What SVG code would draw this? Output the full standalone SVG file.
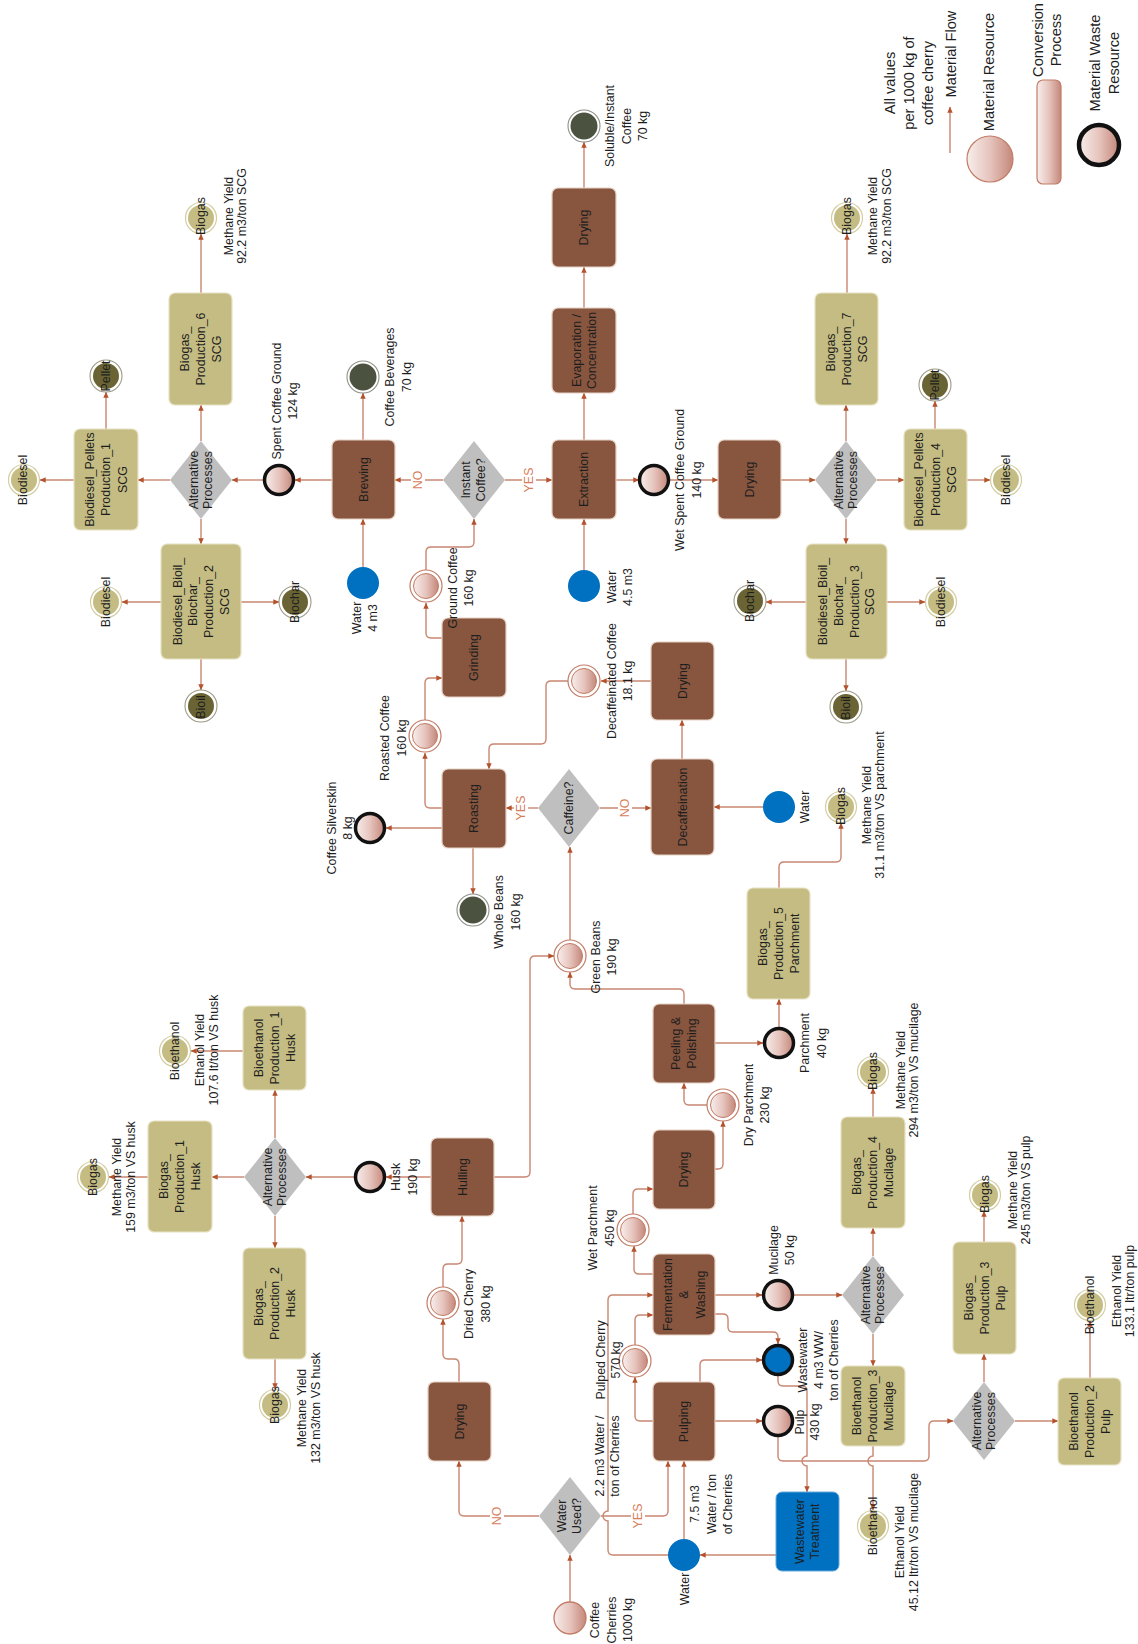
<svg xmlns="http://www.w3.org/2000/svg" width="1138" height="1644" viewBox="0 0 1138 1644">
<defs>
<linearGradient id="rg" x1="0" y1="0" x2="1" y2="0">
<stop offset="0" stop-color="#F7EEEC"/><stop offset="0.5" stop-color="#E6C4BD"/><stop offset="1" stop-color="#C4877A"/>
</linearGradient>
<marker id="ah" viewBox="0 0 10 10" refX="9.5" refY="5" markerWidth="7" markerHeight="6" orient="auto" markerUnits="userSpaceOnUse">
<path d="M0,0.5 L10,5 L0,9.5 z" fill="#B4522D"/>
</marker>
<style>
.t{font-family:"Liberation Sans",Arial,sans-serif;font-size:12.4px;fill:#1e1e1e;text-anchor:middle}
.lg{font-size:14.6px}
.yn{font-family:"Liberation Sans",Arial,sans-serif;font-size:12.4px;fill:#D8805C;text-anchor:middle}
.proc{fill:#88563F;stroke:#E6CFC4;stroke-width:1.2}
.wwt{fill:#0070C0;stroke:#6AA8DA;stroke-width:1}
.olv{fill:#C4BC83;stroke:#E6E2C3;stroke-width:1.2}
.dia{fill:#BFBFBF}
.ring{fill:#fff;stroke:#C27C66;stroke-width:1.2}
.res{fill:url(#rg);stroke:#C27C66;stroke-width:1}
.res1{fill:url(#rg);stroke:#C27C66;stroke-width:1.3}
.waste{fill:url(#rg);stroke:#111;stroke-width:3.5}
.water{fill:#0070C0}
.pdo{fill:#fff;stroke:#8E9088;stroke-width:1.1}
.pd{fill:#4B5340}
.olo{fill:#fff;stroke:#D3CEA2;stroke-width:1.2}
.ol{fill:#C4BC83}
.odo{fill:#fff;stroke:#9C9A85;stroke-width:1.1}
.od{fill:#6A6434}
.e{fill:none;stroke:#C98771;stroke-width:1.4;marker-end:url(#ah)}
.bg{fill:#fff}
</style>
</defs>
<rect width="1138" height="1644" fill="#fff"/>

<!-- connectors -->
<g id="connectors">
<path class="e" d="M201,293 V234"/>
<path class="e" d="M201,441 V405"/>
<path class="e" d="M106,429 V392"/>
<path class="e" d="M74,480 H40"/>
<path class="e" d="M170,480 H138"/>
<path class="e" d="M263,480 H232"/>
<path class="e" d="M332,480 H295"/>
<path class="e" d="M363,440 V393"/>
<path class="e" d="M363,567 V519"/>
<path class="e" d="M201,519 V544"/>
<path class="e" d="M161,602 H122"/>
<path class="e" d="M241,602 H279"/>
<path class="e" d="M201,659 V690"/>
<path class="e" d="M443,480 H395"/>
<path class="e" d="M505,480 H552"/>
<path class="e" d="M584,440 V393"/>
<path class="e" d="M584,308 V267"/>
<path class="e" d="M584,188 V142"/>
<path class="e" d="M584,570 V519"/>
<path class="e" d="M616,480 H639"/>
<path class="e" d="M670,480 H718"/>
<path class="e" d="M781,480 H815"/>
<path class="e" d="M846,441 V405"/>
<path class="e" d="M847,293 V234"/>
<path class="e" d="M877,480 H904"/>
<path class="e" d="M935,429 V401"/>
<path class="e" d="M967,480 H990"/>
<path class="e" d="M846,519 V544"/>
<path class="e" d="M806,602 H766"/>
<path class="e" d="M887,602 H925"/>
<path class="e" d="M846,659 V691"/>
<path class="e" d="M442,638 H431 Q426,638 426,633 V603"/>
<path class="e" d="M426,570 V552 Q426,547 431,547 H469 Q474,547 474,542 V519"/>
<path class="e" d="M425,720 V683 Q425,678 430,678 H442"/>
<path class="e" d="M442,808 H430 Q425,808 425,803 V753"/>
<path class="e" d="M442,828 H386"/>
<path class="e" d="M473,848 V894"/>
<path class="e" d="M538,808 H506"/>
<path class="e" d="M600,808 H651"/>
<path class="e" d="M682,759 V720"/>
<path class="e" d="M651,681 H601"/>
<path class="e" d="M568,681 H551 Q546,681 546,686 V739 Q546,744 541,744 H494 Q489,744 489,749 V769"/>
<path class="e" d="M763,807 H714"/>
<path class="e" d="M570,940 V847"/>
<path class="e" d="M494,1177 H525 Q530,1177 530,1172 V961 Q530,956 535,956 H554"/>
<path class="e" d="M684,1004 V994 Q684,989 679,989 H575 Q570,989 570,984 V972"/>
<path class="e" d="M715,1043 H763"/>
<path class="e" d="M779,1027 V999"/>
<path class="e" d="M779,888 V867 Q779,862 784,862 H836 Q841,862 841,857 V823"/>
<path class="e" d="M707,1105 H689 Q684,1105 684,1100 V1083"/>
<path class="e" d="M715,1169 H718 Q723,1169 723,1164 V1121"/>
<path class="e" d="M633,1214 V1194 Q633,1189 638,1189 H653"/>
<path class="e" d="M653,1274 H639 Q634,1274 634,1269 V1246"/>
<path class="e" d="M431,1177 H386"/>
<path class="e" d="M354,1177 H306"/>
<path class="e" d="M244,1177 H212"/>
<path class="e" d="M148,1177 H109"/>
<path class="e" d="M275,1138 V1090"/>
<path class="e" d="M243,1051 H191"/>
<path class="e" d="M275,1216 V1248"/>
<path class="e" d="M275,1359 V1389"/>
<path class="e" d="M459,1382 V1364 Q459,1359 454,1359 H448 Q443,1359 443,1354 V1319"/>
<path class="e" d="M443,1287 V1269 Q443,1264 448,1264 H457 Q462,1264 462,1259 V1216"/>
<path class="e" d="M539,1516 H464 Q459,1516 459,1511 V1461"/>
<path class="e" d="M601,1516 H663 Q668,1516 668,1511 V1461"/>
<path class="e" d="M570,1602 V1555"/>
<path class="e" d="M684,1539 V1461"/>
<path class="e" d="M668,1555 H613 Q608,1555 608,1550 V1521 A5,5 0 0 1 608,1511 V1300 Q608,1295 613,1295 H653"/>
<path class="e" d="M653,1421 H640 Q635,1421 635,1416 V1377"/>
<path class="e" d="M635,1345 V1320 Q635,1315 640,1315 H653"/>
<path class="e" d="M715,1295 H762"/>
<path class="e" d="M715,1314 H723 Q728,1314 728,1319 V1327 Q728,1332 733,1332 H773 Q778,1332 778,1337 V1344"/>
<path class="e" d="M700,1382 V1365 Q700,1360 705,1360 H762"/>
<path class="e" d="M715,1421 H762"/>
<path class="e" d="M794,1295 H842"/>
<path class="e" d="M873,1256 V1228"/>
<path class="e" d="M873,1117 V1088"/>
<path class="e" d="M873,1334 V1366"/>
<path class="e" d="M873,1446 V1456 A5,5 0 0 0 873,1466 V1510"/>
<path class="e" d="M778,1376 V1381 Q778,1386 783,1386 H802 Q807,1386 807,1391 V1456 A5,5 0 0 0 807,1466 V1492"/>
<path class="e" d="M778,1437 V1456 Q778,1461 783,1461 H924 Q929,1461 929,1456 V1426 Q929,1421 934,1421 H953"/>
<path class="e" d="M984,1382 V1354"/>
<path class="e" d="M984,1242 V1211"/>
<path class="e" d="M1015,1421 H1058"/>
<path class="e" d="M1090,1378 V1321"/>
<path class="e" d="M776,1555 H700"/>
<!-- decision branch labels -->
<rect class="bg" x="411" y="469" width="14" height="22"/>
<text class="yn" transform="translate(418,480) rotate(-90)"><tspan x="0" y="4.3">NO</tspan></text>
<rect class="bg" x="522" y="466" width="14" height="28"/>
<text class="yn" transform="translate(529,480) rotate(-90)"><tspan x="0" y="4.3">YES</tspan></text>
<rect class="bg" x="514" y="794" width="14" height="28"/>
<text class="yn" transform="translate(521,808) rotate(-90)"><tspan x="0" y="4.3">YES</tspan></text>
<rect class="bg" x="618" y="797" width="14" height="22"/>
<text class="yn" transform="translate(625,808) rotate(-90)"><tspan x="0" y="4.3">NO</tspan></text>
<rect class="bg" x="490" y="1505" width="14" height="22"/>
<text class="yn" transform="translate(497,1516) rotate(-90)"><tspan x="0" y="4.3">NO</tspan></text>
<rect class="bg" x="631" y="1502" width="14" height="28"/>
<text class="yn" transform="translate(638,1516) rotate(-90)"><tspan x="0" y="4.3">YES</tspan></text>
</g>

<!-- conversion processes -->
<g id="brewing"><rect class="proc" x="332" y="440" width="63" height="79" rx="6"/><text class="t" transform="translate(363.5,479.5) rotate(-90)"><tspan x="0" y="4.3">Brewing</tspan></text></g>
<g id="extraction"><rect class="proc" x="552" y="440" width="64" height="79" rx="6"/><text class="t" transform="translate(584,479.5) rotate(-90)"><tspan x="0" y="4.3">Extraction</tspan></text></g>
<g id="evaporation"><rect class="proc" x="552" y="308" width="64" height="85" rx="6"/><text class="t" transform="translate(584,350.5) rotate(-90)"><tspan x="0" y="-3.45">Evaporation /</tspan><tspan x="0" y="12.05">Concentration</tspan></text></g>
<g id="drying-instant"><rect class="proc" x="552" y="188" width="64" height="79" rx="6"/><text class="t" transform="translate(584,227.5) rotate(-90)"><tspan x="0" y="4.3">Drying</tspan></text></g>
<g id="drying-scg"><rect class="proc" x="718" y="440" width="63" height="79" rx="6"/><text class="t" transform="translate(749.5,479.5) rotate(-90)"><tspan x="0" y="4.3">Drying</tspan></text></g>
<g id="grinding"><rect class="proc" x="442" y="618" width="64" height="79" rx="6"/><text class="t" transform="translate(474,657.5) rotate(-90)"><tspan x="0" y="4.3">Grinding</tspan></text></g>
<g id="roasting"><rect class="proc" x="442" y="769" width="64" height="79" rx="6"/><text class="t" transform="translate(474,808.5) rotate(-90)"><tspan x="0" y="4.3">Roasting</tspan></text></g>
<g id="drying-decaf"><rect class="proc" x="651" y="642" width="63" height="78" rx="6"/><text class="t" transform="translate(682.5,681) rotate(-90)"><tspan x="0" y="4.3">Drying</tspan></text></g>
<g id="decaffeination"><rect class="proc" x="651" y="759" width="63" height="96" rx="6"/><text class="t" transform="translate(682.5,807) rotate(-90)"><tspan x="0" y="4.3">Decaffeination</tspan></text></g>
<g id="hulling"><rect class="proc" x="431" y="1138" width="63" height="78" rx="6"/><text class="t" transform="translate(462.5,1177) rotate(-90)"><tspan x="0" y="4.3">Hulling</tspan></text></g>
<g id="peeling"><rect class="proc" x="653" y="1004" width="62" height="79" rx="6"/><text class="t" transform="translate(684,1043.5) rotate(-90)"><tspan x="0" y="-3.7">Peeling &amp;</tspan><tspan x="0" y="12.3">Polishing</tspan></text></g>
<g id="drying-parchment"><rect class="proc" x="653" y="1130" width="62" height="79" rx="6"/><text class="t" transform="translate(684,1169.5) rotate(-90)"><tspan x="0" y="4.3">Drying</tspan></text></g>
<g id="fermentation"><rect class="proc" x="653" y="1254" width="62" height="81" rx="6"/><text class="t" transform="translate(684,1294.5) rotate(-90)"><tspan x="0" y="-12.2">Fermentation</tspan><tspan x="0" y="4.3">&amp;</tspan><tspan x="0" y="20.8">Washing</tspan></text></g>
<g id="pulping"><rect class="proc" x="653" y="1382" width="62" height="79" rx="6"/><text class="t" transform="translate(684,1421.5) rotate(-90)"><tspan x="0" y="4.3">Pulping</tspan></text></g>
<g id="drying-cherry"><rect class="proc" x="428" y="1382" width="63" height="79" rx="6"/><text class="t" transform="translate(459.5,1421.5) rotate(-90)"><tspan x="0" y="4.3">Drying</tspan></text></g>
<g id="wastewater-treatment"><rect class="wwt" x="776" y="1492" width="63" height="79" rx="6"/><text class="t" transform="translate(807.5,1531.5) rotate(-90)"><tspan x="0" y="-3.2">Wastewater</tspan><tspan x="0" y="11.8">Treatment</tspan></text></g>

<!-- valorisation processes -->
<g id="biogas-6"><rect class="olv" x="169" y="293" width="63" height="112" rx="6"/><text class="t" transform="translate(200.5,349) rotate(-90)"><tspan x="0" y="-11.7">Biogas_</tspan><tspan x="0" y="4.3">Production_6</tspan><tspan x="0" y="20.3">SCG</tspan></text></g>
<g id="pellets-1"><rect class="olv" x="74" y="429" width="64" height="101" rx="6"/><text class="t" transform="translate(106,479.5) rotate(-90)"><tspan x="0" y="-12.2">Biodiesel_Pellets</tspan><tspan x="0" y="4.3">Production_1</tspan><tspan x="0" y="20.8">SCG</tspan></text></g>
<g id="bioil-biochar-2"><rect class="olv" x="161" y="544" width="80" height="115" rx="6"/><text class="t" transform="translate(201,601.5) rotate(-90)"><tspan x="0" y="-19.25">Biodiesel_Bioil_</tspan><tspan x="0" y="-3.55">Biochar_</tspan><tspan x="0" y="12.15">Production_2</tspan><tspan x="0" y="27.85">SCG</tspan></text></g>
<g id="biogas-7"><rect class="olv" x="815" y="293" width="63" height="112" rx="6"/><text class="t" transform="translate(846.5,349) rotate(-90)"><tspan x="0" y="-11.7">Biogas_</tspan><tspan x="0" y="4.3">Production_7</tspan><tspan x="0" y="20.3">SCG</tspan></text></g>
<g id="pellets-4"><rect class="olv" x="904" y="429" width="63" height="101" rx="6"/><text class="t" transform="translate(935.5,479.5) rotate(-90)"><tspan x="0" y="-12.2">Biodiesel_Pellets</tspan><tspan x="0" y="4.3">Production_4</tspan><tspan x="0" y="20.8">SCG</tspan></text></g>
<g id="bioil-biochar-3"><rect class="olv" x="806" y="544" width="81" height="115" rx="6"/><text class="t" transform="translate(846.5,601.5) rotate(-90)"><tspan x="0" y="-19.25">Biodiesel_Bioil_</tspan><tspan x="0" y="-3.55">Biochar_</tspan><tspan x="0" y="12.15">Production_3</tspan><tspan x="0" y="27.85">SCG</tspan></text></g>
<g id="biogas-5"><rect class="olv" x="747" y="888" width="63" height="111" rx="6"/><text class="t" transform="translate(778.5,943.5) rotate(-90)"><tspan x="0" y="-11.7">Biogas_</tspan><tspan x="0" y="4.3">Production_5</tspan><tspan x="0" y="20.3">Parchment</tspan></text></g>
<g id="bioethanol-1"><rect class="olv" x="243" y="1006" width="63" height="84" rx="6"/><text class="t" transform="translate(274.5,1048) rotate(-90)"><tspan x="0" y="-11.7">Bioethanol</tspan><tspan x="0" y="4.3">Production_1</tspan><tspan x="0" y="20.3">Husk</tspan></text></g>
<g id="biogas-1"><rect class="olv" x="148" y="1121" width="64" height="111" rx="6"/><text class="t" transform="translate(180,1176.5) rotate(-90)"><tspan x="0" y="-11.7">Biogas_</tspan><tspan x="0" y="4.3">Production_1</tspan><tspan x="0" y="20.3">Husk</tspan></text></g>
<g id="biogas-2"><rect class="olv" x="243" y="1248" width="63" height="111" rx="6"/><text class="t" transform="translate(274.5,1303.5) rotate(-90)"><tspan x="0" y="-11.7">Biogas_</tspan><tspan x="0" y="4.3">Production_2</tspan><tspan x="0" y="20.3">Husk</tspan></text></g>
<g id="biogas-4"><rect class="olv" x="841" y="1117" width="64" height="111" rx="6"/><text class="t" transform="translate(873,1172.5) rotate(-90)"><tspan x="0" y="-11.7">Biogas_</tspan><tspan x="0" y="4.3">Production_4</tspan><tspan x="0" y="20.3">Mucilage</tspan></text></g>
<g id="bioethanol-3"><rect class="olv" x="841" y="1366" width="64" height="80" rx="6"/><text class="t" transform="translate(873,1406) rotate(-90)"><tspan x="0" y="-11.7">Bioethanol</tspan><tspan x="0" y="4.3">Production_3</tspan><tspan x="0" y="20.3">Mucilage</tspan></text></g>
<g id="biogas-3"><rect class="olv" x="953" y="1242" width="63" height="112" rx="6"/><text class="t" transform="translate(984.5,1298) rotate(-90)"><tspan x="0" y="-11.7">Biogas_</tspan><tspan x="0" y="4.3">Production_3</tspan><tspan x="0" y="20.3">Pulp</tspan></text></g>
<g id="bioethanol-2"><rect class="olv" x="1058" y="1378" width="63" height="87" rx="6"/><text class="t" transform="translate(1089.5,1421.5) rotate(-90)"><tspan x="0" y="-11.7">Bioethanol</tspan><tspan x="0" y="4.3">Production_2</tspan><tspan x="0" y="20.3">Pulp</tspan></text></g>

<!-- decisions -->
<g id="alt-scg-1"><polygon class="dia" points="201,441 232,480 201,519 170,480"/><text class="t" transform="translate(200.5,480) rotate(-90)"><tspan x="0" y="-2.7">Alternative</tspan><tspan x="0" y="11.3">Processes</tspan></text></g>
<g id="instant"><polygon class="dia" points="474,441 505,480 474,519 443,480"/><text class="t" transform="translate(473,480) rotate(-90)"><tspan x="0" y="-3.2">Instant</tspan><tspan x="0" y="11.8">Coffee?</tspan></text></g>
<g id="alt-scg-2"><polygon class="dia" points="846,441 877,480 846,519 815,480"/><text class="t" transform="translate(845.5,480) rotate(-90)"><tspan x="0" y="-2.7">Alternative</tspan><tspan x="0" y="11.3">Processes</tspan></text></g>
<g id="caffeine"><polygon class="dia" points="569,769 600,808 569,847 538,808"/><text class="t" transform="translate(569,808) rotate(-90)"><tspan x="0" y="4.3">Caffeine?</tspan></text></g>
<g id="alt-husk"><polygon class="dia" points="275,1138 306,1177 275,1216 244,1177"/><text class="t" transform="translate(274.5,1177) rotate(-90)"><tspan x="0" y="-2.7">Alternative</tspan><tspan x="0" y="11.3">Processes</tspan></text></g>
<g id="alt-mucilage"><polygon class="dia" points="873,1256 904,1295 873,1334 842,1295"/><text class="t" transform="translate(872.5,1295) rotate(-90)"><tspan x="0" y="-2.7">Alternative</tspan><tspan x="0" y="11.3">Processes</tspan></text></g>
<g id="alt-pulp"><polygon class="dia" points="984,1382 1015,1421 984,1460 953,1421"/><text class="t" transform="translate(983.5,1421) rotate(-90)"><tspan x="0" y="-2.7">Alternative</tspan><tspan x="0" y="11.3">Processes</tspan></text></g>
<g id="water-used"><polygon class="dia" points="570,1477 601,1516 570,1555 539,1516"/><text class="t" transform="translate(569.5,1516) rotate(-90)"><tspan x="0" y="-3.2">Water</tspan><tspan x="0" y="11.8">Used?</tspan></text></g>

<!-- material resources -->
<g id="ground-coffee"><circle class="ring" cx="426" cy="586" r="16"/><circle class="res" cx="426" cy="586" r="12.5"/><text class="t" transform="translate(460.5,588) rotate(-90)"><tspan x="0" y="-3.95">Ground Coffee</tspan><tspan x="0" y="12.55">160 kg</tspan></text></g>
<g id="roasted-coffee"><circle class="ring" cx="425" cy="736" r="16"/><circle class="res" cx="425" cy="736" r="12.5"/><text class="t" transform="translate(393,738) rotate(-90)"><tspan x="0" y="-3.95">Roasted Coffee</tspan><tspan x="0" y="12.55">160 kg</tspan></text></g>
<g id="decaf-coffee"><circle class="ring" cx="584" cy="681" r="16"/><circle class="res" cx="584" cy="681" r="12.5"/><text class="t" transform="translate(619.5,681) rotate(-90)"><tspan x="0" y="-3.95">Decaffeinated Coffee</tspan><tspan x="0" y="12.55">18.1 kg</tspan></text></g>
<g id="green-beans"><circle class="ring" cx="570" cy="956" r="16"/><circle class="res" cx="570" cy="956" r="12.5"/><text class="t" transform="translate(603.5,957) rotate(-90)"><tspan x="0" y="-3.95">Green Beans</tspan><tspan x="0" y="12.55">190 kg</tspan></text></g>
<g id="dry-parchment"><circle class="ring" cx="723" cy="1105" r="16"/><circle class="res" cx="723" cy="1105" r="12.5"/><text class="t" transform="translate(756.5,1105) rotate(-90)"><tspan x="0" y="-3.95">Dry Parchment</tspan><tspan x="0" y="12.55">230 kg</tspan></text></g>
<g id="wet-parchment"><circle class="ring" cx="633" cy="1230" r="16"/><circle class="res" cx="633" cy="1230" r="12.5"/><text class="t" transform="translate(601,1228) rotate(-90)"><tspan x="0" y="-3.95">Wet Parchment</tspan><tspan x="0" y="12.55">450 kg</tspan></text></g>
<g id="pulped-cherry"><circle class="ring" cx="635" cy="1361" r="16"/><circle class="res" cx="635" cy="1361" r="12.5"/><text class="t" transform="translate(608.5,1360) rotate(-90)"><tspan x="0" y="-3.2">Pulped Cherry</tspan><tspan x="0" y="11.8">570 kg</tspan></text></g>
<g id="dried-cherry"><circle class="ring" cx="443" cy="1303" r="16"/><circle class="res" cx="443" cy="1303" r="12.5"/><text class="t" transform="translate(477,1304) rotate(-90)"><tspan x="0" y="-3.95">Dried Cherry</tspan><tspan x="0" y="12.55">380 kg</tspan></text></g>
<g id="coffee-cherries"><circle class="res1" cx="570" cy="1618" r="16"/><text class="t" transform="translate(611.5,1620) rotate(-90)"><tspan x="0" y="-12.2">Coffee</tspan><tspan x="0" y="4.3">Cherries</tspan><tspan x="0" y="20.8">1000 kg</tspan></text></g>

<!-- material waste resources -->
<g id="spent-coffee-ground"><circle class="waste" cx="279" cy="480" r="14.5"/><text class="t" transform="translate(284.5,401) rotate(-90)"><tspan x="0" y="-3.95">Spent Coffee Ground</tspan><tspan x="0" y="12.55">124 kg</tspan></text></g>
<g id="wet-spent-coffee-ground"><circle class="waste" cx="654" cy="480" r="14.5"/><text class="t" transform="translate(688,480) rotate(-90)"><tspan x="0" y="-3.95">Wet Spent Coffee Ground</tspan><tspan x="0" y="12.55">140 kg</tspan></text></g>
<g id="silverskin"><circle class="waste" cx="370" cy="828" r="14.5"/><text class="t" transform="translate(339.5,828) rotate(-90)"><tspan x="0" y="-3.45">Coffee Silverskin</tspan><tspan x="0" y="12.05">8 kg</tspan></text></g>
<g id="husk"><circle class="waste" cx="370" cy="1177" r="14.5"/><text class="t" transform="translate(404,1177) rotate(-90)"><tspan x="0" y="-3.95">Husk</tspan><tspan x="0" y="12.55">190 kg</tspan></text></g>
<g id="parchment"><circle class="waste" cx="779" cy="1043" r="14.5"/><text class="t" transform="translate(813,1043) rotate(-90)"><tspan x="0" y="-3.95">Parchment</tspan><tspan x="0" y="12.55">40 kg</tspan></text></g>
<g id="mucilage"><circle class="waste" cx="778" cy="1295" r="14.5"/><text class="t" transform="translate(781.5,1250) rotate(-90)"><tspan x="0" y="-3.95">Mucilage</tspan><tspan x="0" y="12.55">50 kg</tspan></text></g>
<g id="pulp"><circle class="waste" cx="778" cy="1421" r="14.5"/><text class="t" transform="translate(807.5,1422) rotate(-90)"><tspan x="0" y="-3.2">Pulp</tspan><tspan x="0" y="11.8">430 kg</tspan></text></g>
<g id="wastewater"><circle cx="778" cy="1360" r="14.5" fill="#0070C0" stroke="#111" stroke-width="3.5"/><text class="t" transform="translate(818.5,1360) rotate(-90)"><tspan x="0" y="-11.2">Wastewater</tspan><tspan x="0" y="4.3">4 m3  WW/</tspan><tspan x="0" y="19.8">ton of Cherries</tspan></text></g>

<!-- water inputs -->
<g id="water-brewing"><circle class="water" cx="363" cy="583" r="16"/><text class="t" transform="translate(364.5,618) rotate(-90)"><tspan x="0" y="-3.7">Water</tspan><tspan x="0" y="12.3">4 m3</tspan></text></g>
<g id="water-extraction"><circle class="water" cx="584" cy="586" r="16"/><text class="t" transform="translate(619.5,587) rotate(-90)"><tspan x="0" y="-3.7">Water</tspan><tspan x="0" y="12.3">4.5 m3</tspan></text></g>
<g id="water-decaf"><circle class="water" cx="779" cy="807" r="16"/><text class="t" transform="translate(805,807) rotate(-90)"><tspan x="0" y="4.3">Water</tspan></text></g>
<g id="water-wet"><circle class="water" cx="684" cy="1555" r="16"/><text class="t" transform="translate(685,1589) rotate(-90)"><tspan x="0" y="4.3">Water</tspan></text></g>

<!-- water annotations -->
<g id="water-notes">
<text class="t" transform="translate(607.5,1456) rotate(-90)"><tspan x="0" y="-3.2">2.2 m3 Water /</tspan><tspan x="0" y="11.8">ton of Cherries</tspan></text>
<text class="t" transform="translate(711.5,1504) rotate(-90)"><tspan x="0" y="-12.2">7.5 m3</tspan><tspan x="0" y="4.3">Water / ton</tspan><tspan x="0" y="20.8">of Cherries</tspan></text>
</g>

<!-- final products -->
<g id="coffee-beverages"><circle class="pdo" cx="363" cy="377" r="16"/><circle class="pd" cx="363" cy="377" r="13.5"/><text class="t" transform="translate(398,377) rotate(-90)"><tspan x="0" y="-3.95">Coffee Beverages</tspan><tspan x="0" y="12.55">70 kg</tspan></text></g>
<g id="instant-coffee"><circle class="pdo" cx="584" cy="126" r="16"/><circle class="pd" cx="584" cy="126" r="13.5"/><text class="t" transform="translate(626.5,126) rotate(-90)"><tspan x="0" y="-12.2">Soluble/Instant</tspan><tspan x="0" y="4.3">Coffee</tspan><tspan x="0" y="20.8">70 kg</tspan></text></g>
<g id="whole-beans"><circle class="pdo" cx="473" cy="910" r="16"/><circle class="pd" cx="473" cy="910" r="13.5"/><text class="t" transform="translate(507,912) rotate(-90)"><tspan x="0" y="-3.95">Whole Beans</tspan><tspan x="0" y="12.55">160 kg</tspan></text></g>

<!-- bio-products -->
<g id="pellet-1"><circle class="odo" cx="106" cy="376" r="16"/><circle class="od" cx="106" cy="376" r="13"/><text class="t" transform="translate(106,376) rotate(-90)"><tspan x="0" y="4.3">Pellet</tspan></text></g>
<g id="pellet-4"><circle class="odo" cx="935" cy="385" r="16"/><circle class="od" cx="935" cy="385" r="13"/><text class="t" transform="translate(935,385) rotate(-90)"><tspan x="0" y="4.3">Pellet</tspan></text></g>
<g id="bioil-2"><circle class="odo" cx="201" cy="706" r="16"/><circle class="od" cx="201" cy="706" r="13"/><text class="t" transform="translate(201,707) rotate(-90)"><tspan x="0" y="4.3">Bioil</tspan></text></g>
<g id="bioil-3"><circle class="odo" cx="846" cy="707" r="16"/><circle class="od" cx="846" cy="707" r="13"/><text class="t" transform="translate(846,708) rotate(-90)"><tspan x="0" y="4.3">Bioil</tspan></text></g>
<g id="biochar-2"><circle class="odo" cx="295" cy="602" r="16"/><circle class="od" cx="295" cy="602" r="13"/><text class="t" transform="translate(295,602) rotate(-90)"><tspan x="0" y="4.3">Biochar</tspan></text></g>
<g id="biochar-3"><circle class="odo" cx="750" cy="601" r="16"/><circle class="od" cx="750" cy="601" r="13"/><text class="t" transform="translate(750,601) rotate(-90)"><tspan x="0" y="4.3">Biochar</tspan></text></g>
<g id="biogas-scg-6"><circle class="olo" cx="201" cy="218" r="15.5"/><circle class="ol" cx="201" cy="218" r="13"/><text class="t" transform="translate(201,216) rotate(-90)"><tspan x="0" y="4.3">Biogas</tspan></text><text class="t" transform="translate(235,216) rotate(-90)"><tspan x="0" y="-2.45">Methane Yield</tspan><tspan x="0" y="11.05">92.2 m3/ton SCG</tspan></text></g>
<g id="biogas-scg-7"><circle class="olo" cx="847" cy="218" r="15.5"/><circle class="ol" cx="847" cy="218" r="13"/><text class="t" transform="translate(847,216) rotate(-90)"><tspan x="0" y="4.3">Biogas</tspan></text><text class="t" transform="translate(879.5,216) rotate(-90)"><tspan x="0" y="-2.45">Methane Yield</tspan><tspan x="0" y="11.05">92.2 m3/ton SCG</tspan></text></g>
<g id="biodiesel-1"><circle class="olo" cx="24" cy="480" r="15.5"/><circle class="ol" cx="24" cy="480" r="13"/><text class="t" transform="translate(23,480) rotate(-90)"><tspan x="0" y="4.3">Biodiesel</tspan></text></g>
<g id="biodiesel-2"><circle class="olo" cx="106" cy="602" r="15.5"/><circle class="ol" cx="106" cy="602" r="13"/><text class="t" transform="translate(106,602) rotate(-90)"><tspan x="0" y="4.3">Biodiesel</tspan></text></g>
<g id="biodiesel-4"><circle class="olo" cx="1006" cy="480" r="15.5"/><circle class="ol" cx="1006" cy="480" r="13"/><text class="t" transform="translate(1006,480) rotate(-90)"><tspan x="0" y="4.3">Biodiesel</tspan></text></g>
<g id="biodiesel-3"><circle class="olo" cx="941" cy="602" r="15.5"/><circle class="ol" cx="941" cy="602" r="13"/><text class="t" transform="translate(941,602) rotate(-90)"><tspan x="0" y="4.3">Biodiesel</tspan></text></g>
<g id="biogas-parchment"><circle class="olo" cx="841" cy="807" r="15.5"/><circle class="ol" cx="841" cy="807" r="13"/><text class="t" transform="translate(841,806) rotate(-90)"><tspan x="0" y="4.3">Biogas</tspan></text><text class="t" transform="translate(873,805) rotate(-90)"><tspan x="0" y="-2.45">Methane Yield</tspan><tspan x="0" y="11.05">31.1 m3/ton VS parchment</tspan></text></g>
<g id="bioethanol-husk"><circle class="olo" cx="175" cy="1051" r="15.5"/><circle class="ol" cx="175" cy="1051" r="13"/><text class="t" transform="translate(175,1051) rotate(-90)"><tspan x="0" y="4.3">Bioethanol</tspan></text><text class="t" transform="translate(206.5,1050) rotate(-90)"><tspan x="0" y="-2.45">Ethanol Yield</tspan><tspan x="0" y="11.05">107.6 lt/ton VS husk</tspan></text></g>
<g id="biogas-husk-1"><circle class="olo" cx="93" cy="1177" r="15.5"/><circle class="ol" cx="93" cy="1177" r="13"/><text class="t" transform="translate(93,1177) rotate(-90)"><tspan x="0" y="4.3">Biogas</tspan></text><text class="t" transform="translate(123.5,1177) rotate(-90)"><tspan x="0" y="-2.45">Methane Yield</tspan><tspan x="0" y="11.05">159 m3/ton VS husk</tspan></text></g>
<g id="biogas-husk-2"><circle class="olo" cx="275" cy="1405" r="15.5"/><circle class="ol" cx="275" cy="1405" r="13"/><text class="t" transform="translate(275,1405) rotate(-90)"><tspan x="0" y="4.3">Biogas</tspan></text><text class="t" transform="translate(308.5,1408) rotate(-90)"><tspan x="0" y="-2.45">Methane Yield</tspan><tspan x="0" y="11.05">132 m3/ton VS husk</tspan></text></g>
<g id="biogas-mucilage"><circle class="olo" cx="873" cy="1072" r="15.5"/><circle class="ol" cx="873" cy="1072" r="13"/><text class="t" transform="translate(873,1071) rotate(-90)"><tspan x="0" y="4.3">Biogas</tspan></text><text class="t" transform="translate(907,1070) rotate(-90)"><tspan x="0" y="-2.45">Methane Yield</tspan><tspan x="0" y="11.05">294 m3/ton VS mucilage</tspan></text></g>
<g id="biogas-pulp"><circle class="olo" cx="985" cy="1195" r="15.5"/><circle class="ol" cx="985" cy="1195" r="13"/><text class="t" transform="translate(985,1194) rotate(-90)"><tspan x="0" y="4.3">Biogas</tspan></text><text class="t" transform="translate(1019,1190) rotate(-90)"><tspan x="0" y="-2.45">Methane Yield</tspan><tspan x="0" y="11.05">245 m3/ton VS pulp</tspan></text></g>
<g id="bioethanol-pulp"><circle class="olo" cx="1090" cy="1305" r="15.5"/><circle class="ol" cx="1090" cy="1305" r="13"/><text class="t" transform="translate(1090,1305) rotate(-90)"><tspan x="0" y="4.3">Bioethanol</tspan></text><text class="t" transform="translate(1123,1291) rotate(-90)"><tspan x="0" y="-2.45">Ethanol Yield</tspan><tspan x="0" y="11.05">133.1 ltr/ton pulp</tspan></text></g>
<g id="bioethanol-mucilage"><circle class="olo" cx="873" cy="1526" r="15.5"/><circle class="ol" cx="873" cy="1526" r="13"/><text class="t" transform="translate(873,1526) rotate(-90)"><tspan x="0" y="4.3">Bioethanol</tspan></text><text class="t" transform="translate(906.5,1542) rotate(-90)"><tspan x="0" y="-2.45">Ethanol Yield</tspan><tspan x="0" y="11.05">45.12 ltr/ton VS mucilage</tspan></text></g>

<!-- legend -->
<g id="legend">
<text class="t lg" transform="translate(909,83) rotate(-90)"><tspan x="0" y="-13.9">All values</tspan><tspan x="0" y="5.1">per 1000 kg of</tspan><tspan x="0" y="24.1">coffee cherry</tspan></text>
<path class="e" d="M950,153 V107"/>
<text class="t lg" transform="translate(951,54) rotate(-90)"><tspan x="0" y="5.1">Material Flow</tspan></text>
<circle cx="990" cy="159" r="23" fill="url(#rg)" stroke="#C27C66" stroke-width="1.2"/>
<text class="t lg" transform="translate(989,72) rotate(-90)"><tspan x="0" y="5.1">Material Resource</tspan></text>
<rect x="1037" y="80" width="24" height="104" rx="6" fill="url(#rg)" stroke="#C27C66" stroke-width="1.2"/>
<text class="t lg" transform="translate(1047,40) rotate(-90)"><tspan x="0" y="-3.9">Conversion</tspan><tspan x="0" y="14.1">Process</tspan></text>
<circle cx="1099" cy="145" r="20" fill="url(#rg)" stroke="#111" stroke-width="4.5"/>
<text class="t lg" transform="translate(1104.5,63) rotate(-90)"><tspan x="0" y="-4.4">Material Waste</tspan><tspan x="0" y="14.6">Resource</tspan></text>
</g>
</svg>
